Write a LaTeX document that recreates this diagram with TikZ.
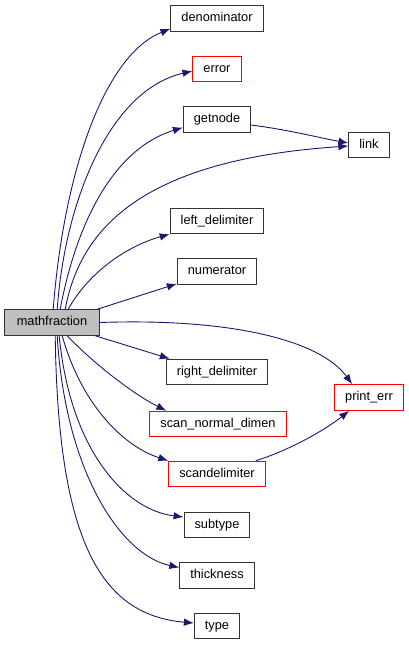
\documentclass[tikz,border=0pt]{standalone}
\usepackage{fontspec}
\setmainfont{Liberation Sans}
\usepackage{xcolor}
\usepackage{tikz}
\usetikzlibrary{arrows.meta}
\definecolor{EdgeNavy}{HTML}{191970}
\definecolor{RootGray}{HTML}{BFBFBF}
\definecolor{ErrRed}{HTML}{FF0000}

\begin{document}
\begin{tikzpicture}[
  x=1pt, y=-1pt,
  box/.style={draw=black!80,fill=white,line width=1pt,minimum height=25.5pt,
    inner xsep=10.5pt,inner ysep=0pt,text height=9.4pt,text depth=2.6pt,
    font=\fontsize{12.8}{15}\selectfont},
  errbox/.style={box,draw=ErrRed},
  rootbox/.style={box,fill=RootGray,inner xsep=12.5pt},
  arrow/.style={-{Latex[length=10pt,width=7.5pt]},EdgeNavy,line width=0.9pt}
]
  \useasboundingbox (0,0) rectangle (409,645);

  \node[rootbox] (mathfraction) at (52,322.5) {mathfraction};

  \node[box] (denominator) at (217,18.5) {denominator};
  \node[errbox] (error) at (217,69) {error};
  \node[box] (getnode) at (217,119.5) {getnode};
  \node[box] (link) at (369,145) {link};
  \node[box] (leftdelim) at (217,221) {left\_delimiter};
  \node[box] (numerator) at (217,271.5) {numerator};
  \node[box] (rightdelim) at (217,372) {right\_delimiter};
  \node[errbox] (printerr) at (369,397.5) {print\_err};
  \node[errbox] (scandimen) at (218,424) {scan\_normal\_dimen};
  \node[errbox] (scandelim) at (217,474) {scandelimiter};
  \node[box] (subtype) at (217,525) {subtype};
  \node[box] (thickness) at (217,575.5) {thickness};
  \node[box] (type) at (217,626) {type};

  % calls going up
  \draw[arrow] ([xshift=-47pt]mathfraction.north east) .. controls (64,170) and (105,55) .. ([yshift=3pt]denominator.south west);
  \draw[arrow] ([xshift=-43pt]mathfraction.north east) .. controls (65,200) and (110,90) .. ([yshift=-2pt]error.west);
  \draw[arrow] ([xshift=-40pt]mathfraction.north east) .. controls (75,230) and (110,150) .. ([yshift=-8pt]getnode.west);
  \draw[arrow] ([xshift=-35pt]mathfraction.north east) .. controls (80,230) and (140,160) .. ([yshift=-1pt]link.west);
  \draw[arrow] (getnode.east) ++(0,5.5) .. controls (290,130) and (320,138) .. ([yshift=2pt]link.west);
  \draw[arrow] ([xshift=-32pt]mathfraction.north east) .. controls (90,270) and (130,245) .. (leftdelim.south west);
  \draw[arrow] ([xshift=-3pt]mathfraction.north east) -- ([yshift=1pt]numerator.south west);

  % calls going right and down
  \draw[arrow] (mathfraction.east) .. controls (230,318) and (320,340) .. ([xshift=18pt]printerr.north west);
  \draw[arrow] ([xshift=-5pt]mathfraction.south east) -- ([xshift=4pt]rightdelim.north west);
  \draw[arrow] ([xshift=-33pt]mathfraction.south east) .. controls (95,365) and (135,395) .. ([xshift=17pt]scandimen.north west);
  \draw[arrow] ([xshift=-38pt]mathfraction.south east) .. controls (80,400) and (120,445) .. (scandelim.north west);
  \draw[arrow] ([xshift=-41pt]mathfraction.south east) .. controls (70,450) and (125,510) .. ([yshift=8pt]subtype.west);
  \draw[arrow] ([xshift=-43pt]mathfraction.south east) .. controls (65,470) and (120,555) .. ([yshift=8pt]thickness.west);
  \draw[arrow] ([xshift=-45pt]mathfraction.south east) .. controls (58,540) and (100,615) .. ([yshift=3pt]type.west);
  \draw[arrow] ([xshift=-10pt]scandelim.north east) .. controls (290,450) and (325,430) .. ([xshift=15pt]printerr.south west);
\end{tikzpicture}
\end{document}
